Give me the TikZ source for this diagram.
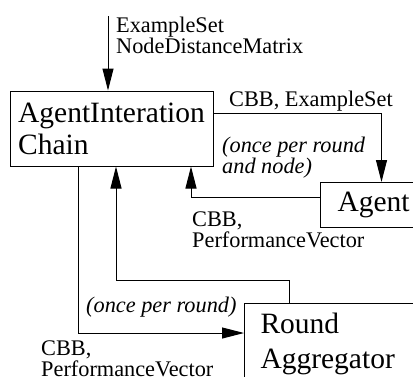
\documentclass[tikz,border=0pt]{standalone}
\usepackage{fontspec}
\IfFontExistsTF{LiberationSerif-Regular.ttf}{%
  \setmainfont{LiberationSerif}[Extension=.ttf, UprightFont=*-Regular, ItalicFont=*-Italic, BoldFont=*-Bold, BoldItalicFont=*-BoldItalic]}{}
\usetikzlibrary{arrows.meta, positioning}

\tikzset{
  box/.style={draw, line width=1pt, align=left, inner sep=0pt, font=\fontsize{29.5}{32}\selectfont},
  flow/.style={line width=1pt, -{Triangle[length=22pt,width=11pt]}},
  lbl/.style={align=left, inner sep=0pt, font=\fontsize{22.3}{21}\selectfont},
  note/.style={align=left, inner sep=0pt, font=\fontsize{22.3}{21}\selectfont\itshape},
}

\begin{document}
\begin{tikzpicture}[x=1pt, y=-1pt]
    \clip (0,0) rectangle (413,376);
    % boxes
    \node[box, minimum width=203pt, minimum height=75pt] (chain) at (111.5,128.5) {AgentInteration\\Chain};
    \node[box, anchor=north west, text width=88pt, inner xsep=17pt, minimum height=45pt] (agent) at (320,182) {Agent};
    \node[box, anchor=north west, text width=150pt, inner xsep=16pt, inner ysep=9.5pt, font=\fontsize{29.5}{35}\selectfont] (round) at (244,303) {Round\\Aggregator};

    % input
    \coordinate (in) at (108,16);
    \draw[flow] (in) -- (in |- chain.north);
    \node[lbl, anchor=north west] (inlbl) at (116,16.8) {ExampleSet\\NodeDistanceMatrix};

    % chain <-> agent
    \draw[flow] (chain.east |- 0,113) -| (agent.north);
    \node[lbl, anchor=base west] (toagent) at (229,106) {CBB, ExampleSet};
    \node[note, anchor=north west] (pernode) at (222,136.5) {(once per round\\and node)};
    \draw[flow] (agent.west |- 0,197) -| (191,0 |- chain.south);
    \node[lbl, anchor=north west] (fromagent) at (192,212) {CBB,\\PerformanceVector};

    % chain <-> round
    \draw[flow] (289,0 |- round.north) |- (116,280) -- (116,0 |- chain.south);
    \node[note, anchor=base west] (perround) at (86,312) {(once per round)};
    \draw[flow] (78,0 |- chain.south) |- (round.west |- 0,333);
    \node[lbl, anchor=north west] (toround) at (41,341) {CBB,\\PerformanceVector};
\end{tikzpicture}
\end{document}
